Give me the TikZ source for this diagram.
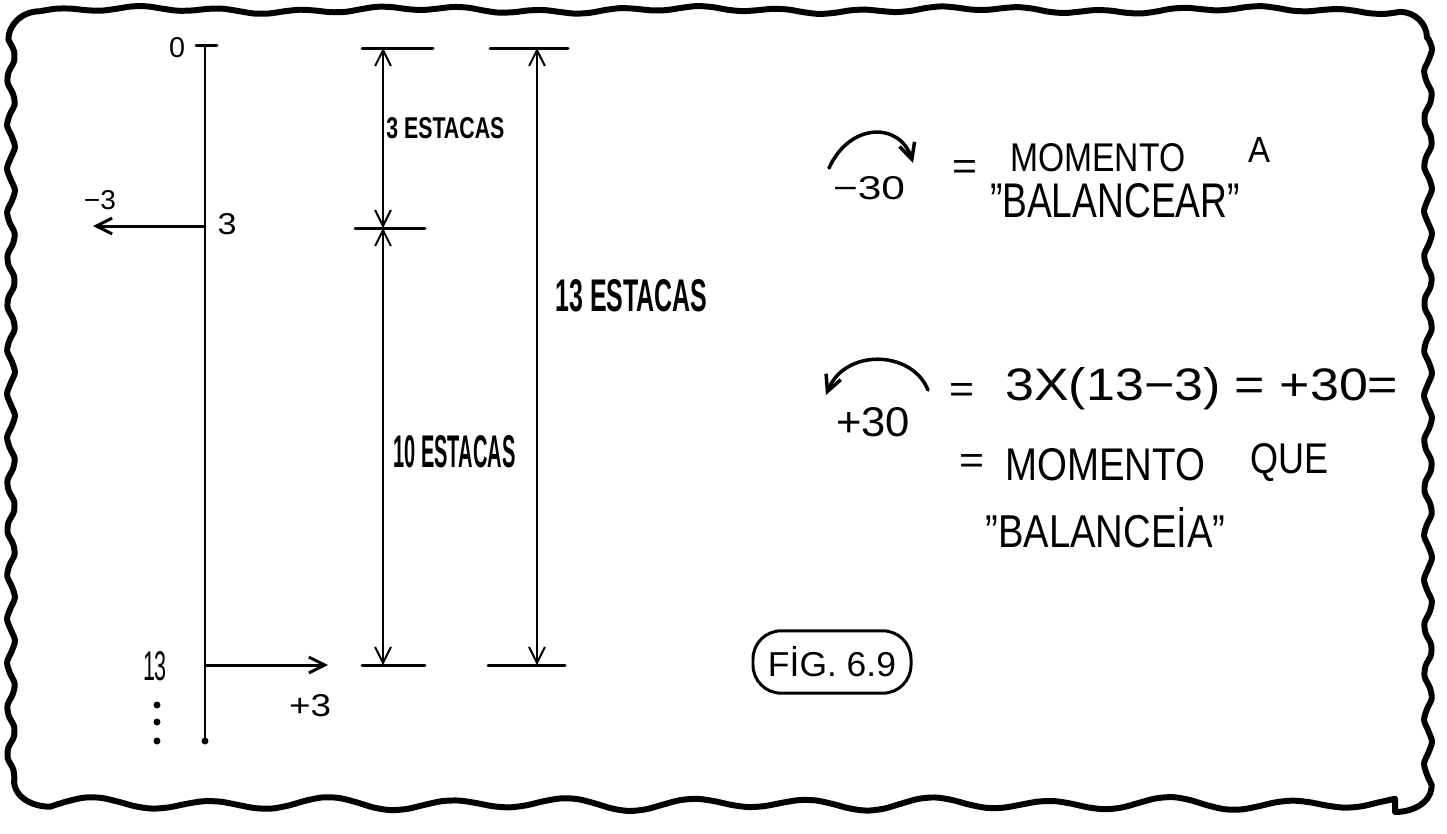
\documentclass[tikz,border=0pt]{standalone}
\usepackage{fontspec}
\setmainfont{Liberation Sans}
\usepackage{graphicx}
\usetikzlibrary{arrows.meta}

\newlength\pxu
\setlength\pxu{0.02cm}
% hand lettering squeezed to a given width and height (in px of the sketch)
\newcommand\hand[3]{\resizebox{#1\pxu}{#2\pxu}{#3}}

\begin{document}
\begin{tikzpicture}[x=0.02cm,y=-0.02cm,
  >={Straight Barb[length=9pt,width=9pt]},
  ink/.style={line width=1.7pt,line cap=round},
  thinink/.style={line width=1.1pt,line cap=round},
  frame/.style={line width=3.4pt,line cap=round,line join=round},
  lbl/.style={inner sep=0pt}]
\useasboundingbox (0,0) rectangle (1447,833);

% wavy frame
\draw[frame]
  plot[smooth,domain=40:1400,samples=90] (\x,{10+2*sin(4.5*\x)+2*cos(1.3*\x)})
  to[out=0,in=90] (1427,38)
  -- plot[smooth,domain=38:785,samples=70] ({1428+4*sin(7.8*(\x-38))},\x)
  to[out=-90,in=0] (1395,812)
  -- plot[smooth,domain=1395:50,samples=80] (\x,{804+5*sin(3*\x)+2*cos(1.7*\x)})
  to[out=180,in=-90] (14,780)
  -- plot[smooth,domain=780:40,samples=70] ({11+4*sin(8*\x)},\x)
  to[out=90,in=180] (40,{10+2*sin(180)+2*cos(52)});

% number line on the left
\coordinate (ax0) at (205,45);
\coordinate (ax3) at (205,226);
\coordinate (ax13) at (205,665);
\coordinate (axend) at (205,741);
\coordinate (fm3) at (93,226);
\coordinate (fp3) at (328,665);
\draw[ink] (ax0) -- (axend);
\draw[ink] (196,45) -- (217,45);
\fill (axend) circle (3.5);
\draw[ink,->] (ax3) -- (fm3);
\draw[ink,->] (ax13) -- (fp3);
\foreach \y in {705,722,741}
  \fill (157,\y) circle (3.5);
\node[lbl] (n0) at (177,48) {\hand{16}{20}{0}};
\node[lbl] (nm3) at (100,200) {\hand{32}{19}{−3}};
\node[lbl] (n3) at (227,224) {\hand{19}{21}{3}};
\node[lbl] (n13) at (155,666) {\hand{24}{29}{13}};
\node[lbl] (np3) at (310,706) {\hand{42}{22}{+3}};

% dimension lines
\coordinate (dA) at (383,48);
\coordinate (dB) at (383,228);
\coordinate (dC) at (383,665);
\coordinate (eA) at (537,48);
\coordinate (eC) at (537,665);
\draw[ink] (362,48) -- (433,48);
\draw[ink] (355,228) -- (425,228);
\draw[ink] (362,665) -- (425,665);
\draw[ink] (490,48) -- (568,48);
\draw[ink] (488,665) -- (565,665);
\draw[thinink,<->] (dA) -- (dB);
\draw[thinink,<->] (dB) -- (dC);
\draw[thinink,<->] (eA) -- (eC);
\node[lbl,anchor=west] (e3) at (386,128) {\hand{118}{21}{\bfseries 3 ESTACAS}};
\node[lbl,anchor=west] (e10) at (393,452) {\hand{122}{32}{\bfseries 10 ESTACAS}};
\node[lbl,anchor=west] (e13) at (555,296) {\hand{152}{32}{\bfseries 13 ESTACAS}};

% moments
\coordinate (c1s) at (829,168);
\coordinate (c1e) at (913,163);
\draw[line width=2pt,line cap=round,->] (c1s) .. controls (850,122) and (900,122) .. (c1e);
\node[lbl] (m30) at (869,188) {\hand{72}{23}{−30}};
\node[lbl] (eq1) at (965,170) {\hand{25}{19}{=}};
\node[lbl,anchor=west] (mom1) at (1010,158) {\hand{175}{28}{MOMENTO}};
\node[lbl] (ma) at (1259,150) {\hand{22}{25}{A}};
\node[lbl] (bal1) at (1115,201) {\hand{250}{34}{"BALANCEAR"}};

\coordinate (c2s) at (928,390);
\coordinate (c2e) at (826,395);
\draw[line width=2pt,line cap=round,->] (c2s) .. controls (912,350) and (845,348) .. (c2e);
\node[lbl] (p30) at (873,422) {\hand{74}{29}{+30}};
\node[lbl] (eq2) at (962,393) {\hand{25}{19}{=}};
\node[lbl,anchor=west] (calc) at (1005,389) {\hand{393}{33}{3X(13−3) = +30=}};
\node[lbl] (eq3) at (972,464) {\hand{25}{19}{=}};
\node[lbl,anchor=west] (mom2) at (1005,465) {\hand{200}{32}{MOMENTO}};
\node[lbl,anchor=west] (que) at (1250,463) {\hand{78}{30}{QUE}};
\node[lbl,anchor=west] (bal2) at (985,528) {\hand{240}{40}{"BALANCEİA"}};

% figure tag
\node[draw,ink,rounded corners=16pt,inner xsep=15\pxu,inner ysep=16\pxu] (fig) at (832,662) {\hand{128}{30}{FİG. 6.9}};
\end{tikzpicture}
\end{document}
